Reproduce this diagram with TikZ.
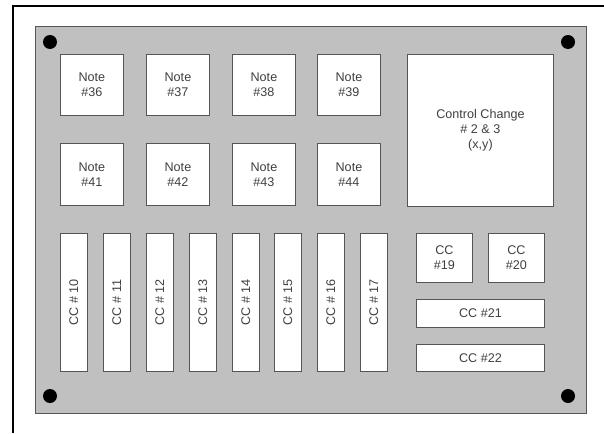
\documentclass[tikz,border=0pt]{standalone}
\usepackage{fontspec}
\setmainfont{Liberation Sans}
\definecolor{panel}{HTML}{C0C0C0}
\definecolor{edge}{HTML}{555555}
\definecolor{txt}{HTML}{404040}
\tikzset{
  pad/.style={draw=edge, line width=0.9pt, fill=white, inner sep=0pt, align=center,
    text=txt, font=\fontsize{12.6}{15}\selectfont},
  hole/.style={circle, fill=black, minimum size=14pt, inner sep=0pt}
}
\begin{document}
\begin{tikzpicture}[x=1pt,y=-1pt]
\useasboundingbox (0,0) rectangle (604,433);
\draw[line width=2pt] (13,433) -- (13,6.5) -- (604,6.5);
\node[draw=edge, line width=0.9pt, fill=panel, anchor=north west, minimum width=551pt, minimum height=387pt, inner sep=0pt] (panel) at (35,26) {};
\node[hole] (h1) at (50,42) {};
\node[hole] (h2) at (568,42) {};
\node[hole] (h3) at (50,396) {};
\node[hole] (h4) at (568,396) {};
% notes
\foreach \i/\x/\n in {1/60/36,2/146/37,3/232/38,4/317/39}{
  \node[pad, anchor=north west, minimum width=63pt, minimum height=61pt] (n\n) at (\x,54) {Note\\\#\n};
}
\foreach \i/\x/\n in {1/60/41,2/146/42,3/232/43,4/317/44}{
  \node[pad, anchor=north west, minimum width=63pt, minimum height=62pt] (n\n) at (\x,143) {Note\\\#\n};
}
\node[pad, anchor=north west, minimum width=146pt, minimum height=152pt] (cc23) at (407,54) {Control Change\\\# 2 \& 3\\(x,y)};
% strips
\foreach \x/\n in {60/10,103/11,146/12,189/13,232/14,274/15,317/16,360/17}{
  \node[pad, anchor=north west, minimum width=26.5pt, minimum height=138pt] (s\n) at (\x,233) {};
  \node[text=txt, font=\fontsize{12.6}{15}\selectfont, rotate=90, inner sep=0pt] (t\n) at (s\n.center) {CC \# \n};
}
\node[pad, anchor=north west, minimum width=56pt, minimum height=49pt] (cc19) at (416,233) {CC\\\#19};
\node[pad, anchor=north west, minimum width=56pt, minimum height=49pt] (cc20) at (488,233) {CC\\\#20};
\node[pad, anchor=north west, minimum width=128pt, minimum height=28pt] (cc21) at (416,299) {CC \#21};
\node[pad, anchor=north west, minimum width=128pt, minimum height=27pt] (cc22) at (416,344) {CC \#22};
\end{tikzpicture}
\end{document}
